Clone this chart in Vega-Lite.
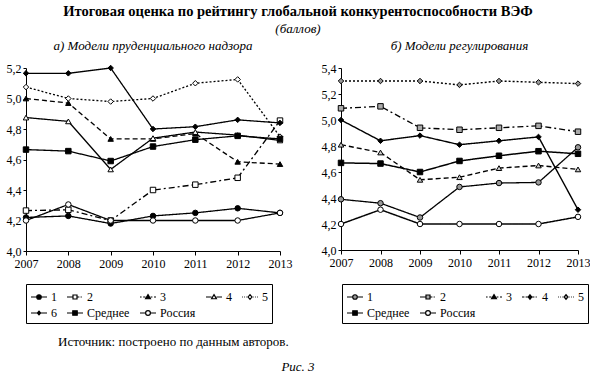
{
  "$schema": "https://vega.github.io/schema/vega-lite/v6.json",
  "padding": {"left": 6, "top": 3, "right": 0, "bottom": 0},
  "background": "white",
  "config": {
    "font": "Liberation Serif",
    "view": {"stroke": null},
    "axis": {"labelFont": "Liberation Serif", "labelFontSize": 12, "labelColor": "black", "domainColor": "black", "tickColor": "black", "grid": false, "title": null, "domainWidth": 1, "tickWidth": 1},
    "legend": {"labelFont": "Liberation Serif", "labelFontSize": 12, "labelColor": "black", "strokeColor": "black", "padding": 4, "rowPadding": 1, "columnPadding": 7, "symbolSize": 256, "labelOffset": 3, "title": null, "fillColor": "white"}
  },
  "title": {"text": "Итоговая оценка по рейтингу глобальной конкурентоспособности ВЭФ", "subtitle": "(баллов)", "font": "Liberation Serif", "fontSize": 14.5, "fontWeight": "bold", "color": "black", "subtitleFont": "Liberation Serif", "subtitleFontStyle": "italic", "subtitleFontSize": 13, "subtitleColor": "black", "subtitlePadding": 4, "anchor": "middle", "offset": 3},
  "datasets": {
    "a": [
      {"series": "1", "year": 2007, "value": 4.22}, {"series": "1", "year": 2008, "value": 4.23}, {"series": "1", "year": 2009, "value": 4.18}, {"series": "1", "year": 2010, "value": 4.23}, {"series": "1", "year": 2011, "value": 4.25}, {"series": "1", "year": 2012, "value": 4.28}, {"series": "1", "year": 2013, "value": 4.25},
      {"series": "2", "year": 2007, "value": 4.265}, {"series": "2", "year": 2008, "value": 4.27}, {"series": "2", "year": 2009, "value": 4.2}, {"series": "2", "year": 2010, "value": 4.4}, {"series": "2", "year": 2011, "value": 4.435}, {"series": "2", "year": 2012, "value": 4.48}, {"series": "2", "year": 2013, "value": 4.855},
      {"series": "3", "year": 2007, "value": 5.0}, {"series": "3", "year": 2008, "value": 4.97}, {"series": "3", "year": 2009, "value": 4.735}, {"series": "3", "year": 2010, "value": 4.735}, {"series": "3", "year": 2011, "value": 4.77}, {"series": "3", "year": 2012, "value": 4.585}, {"series": "3", "year": 2013, "value": 4.57},
      {"series": "4", "year": 2007, "value": 4.875}, {"series": "4", "year": 2008, "value": 4.85}, {"series": "4", "year": 2009, "value": 4.535}, {"series": "4", "year": 2010, "value": 4.74}, {"series": "4", "year": 2011, "value": 4.78}, {"series": "4", "year": 2012, "value": 4.76}, {"series": "4", "year": 2013, "value": 4.725},
      {"series": "5", "year": 2007, "value": 5.075}, {"series": "5", "year": 2008, "value": 5.0}, {"series": "5", "year": 2009, "value": 4.98}, {"series": "5", "year": 2010, "value": 5.0}, {"series": "5", "year": 2011, "value": 5.1}, {"series": "5", "year": 2012, "value": 5.125}, {"series": "5", "year": 2013, "value": 4.75},
      {"series": "6", "year": 2007, "value": 5.165}, {"series": "6", "year": 2008, "value": 5.165}, {"series": "6", "year": 2009, "value": 5.2}, {"series": "6", "year": 2010, "value": 4.8}, {"series": "6", "year": 2011, "value": 4.815}, {"series": "6", "year": 2012, "value": 4.86}, {"series": "6", "year": 2013, "value": 4.84},
      {"series": "Среднее", "year": 2007, "value": 4.665}, {"series": "Среднее", "year": 2008, "value": 4.655}, {"series": "Среднее", "year": 2009, "value": 4.59}, {"series": "Среднее", "year": 2010, "value": 4.685}, {"series": "Среднее", "year": 2011, "value": 4.73}, {"series": "Среднее", "year": 2012, "value": 4.755}, {"series": "Среднее", "year": 2013, "value": 4.735},
      {"series": "Россия", "year": 2007, "value": 4.2}, {"series": "Россия", "year": 2008, "value": 4.305}, {"series": "Россия", "year": 2009, "value": 4.2}, {"series": "Россия", "year": 2010, "value": 4.2}, {"series": "Россия", "year": 2011, "value": 4.2}, {"series": "Россия", "year": 2012, "value": 4.2}, {"series": "Россия", "year": 2013, "value": 4.25}
    ],
    "b": [
      {"series": "1", "year": 2007, "value": 4.39}, {"series": "1", "year": 2008, "value": 4.36}, {"series": "1", "year": 2009, "value": 4.25}, {"series": "1", "year": 2010, "value": 4.485}, {"series": "1", "year": 2011, "value": 4.515}, {"series": "1", "year": 2012, "value": 4.52}, {"series": "1", "year": 2013, "value": 4.79},
      {"series": "2", "year": 2007, "value": 5.09}, {"series": "2", "year": 2008, "value": 5.105}, {"series": "2", "year": 2009, "value": 4.94}, {"series": "2", "year": 2010, "value": 4.925}, {"series": "2", "year": 2011, "value": 4.94}, {"series": "2", "year": 2012, "value": 4.955}, {"series": "2", "year": 2013, "value": 4.91},
      {"series": "3", "year": 2007, "value": 4.81}, {"series": "3", "year": 2008, "value": 4.75}, {"series": "3", "year": 2009, "value": 4.54}, {"series": "3", "year": 2010, "value": 4.56}, {"series": "3", "year": 2011, "value": 4.63}, {"series": "3", "year": 2012, "value": 4.65}, {"series": "3", "year": 2013, "value": 4.62},
      {"series": "4", "year": 2007, "value": 5.0}, {"series": "4", "year": 2008, "value": 4.84}, {"series": "4", "year": 2009, "value": 4.88}, {"series": "4", "year": 2010, "value": 4.81}, {"series": "4", "year": 2011, "value": 4.84}, {"series": "4", "year": 2012, "value": 4.87}, {"series": "4", "year": 2013, "value": 4.31},
      {"series": "5", "year": 2007, "value": 5.3}, {"series": "5", "year": 2008, "value": 5.3}, {"series": "5", "year": 2009, "value": 5.3}, {"series": "5", "year": 2010, "value": 5.27}, {"series": "5", "year": 2011, "value": 5.3}, {"series": "5", "year": 2012, "value": 5.29}, {"series": "5", "year": 2013, "value": 5.28},
      {"series": "Среднее", "year": 2007, "value": 4.67}, {"series": "Среднее", "year": 2008, "value": 4.665}, {"series": "Среднее", "year": 2009, "value": 4.6}, {"series": "Среднее", "year": 2010, "value": 4.685}, {"series": "Среднее", "year": 2011, "value": 4.725}, {"series": "Среднее", "year": 2012, "value": 4.76}, {"series": "Среднее", "year": 2013, "value": 4.74},
      {"series": "Россия", "year": 2007, "value": 4.2}, {"series": "Россия", "year": 2008, "value": 4.31}, {"series": "Россия", "year": 2009, "value": 4.2}, {"series": "Россия", "year": 2010, "value": 4.2}, {"series": "Россия", "year": 2011, "value": 4.2}, {"series": "Россия", "year": 2012, "value": 4.2}, {"series": "Россия", "year": 2013, "value": 4.255}
    ]
  },
  "vconcat": [
    {
      "title": {"text": "Рис. 3", "orient": "bottom", "anchor": "middle", "font": "Liberation Serif", "fontSize": 13, "fontStyle": "italic", "fontWeight": "normal", "color": "black", "offset": 12},
      "vconcat": [
        {
          "title": {"text": "Источник: построено по данным авторов.", "orient": "bottom", "anchor": "start", "font": "Liberation Serif", "fontSize": 13, "fontWeight": "normal", "color": "black", "offset": 12, "dx": 52},
          "hconcat": [
            {
              "width": 254, "height": 183,
              "title": {"text": "а) Модели пруденциального надзора", "font": "Liberation Serif", "fontStyle": "italic", "fontWeight": "normal", "fontSize": 13, "color": "black", "anchor": "middle", "offset": 9},
              "data": {"name": "a"},
              "encoding": {
                "x": {"field": "year", "type": "quantitative", "scale": {"domain": [2007, 2013], "nice": false, "zero": false}, "axis": {"values": [2007, 2008, 2009, 2010, 2011, 2012, 2013], "format": "d", "tickSize": 4, "labelPadding": 3, "labelFlush": false}},
                "y": {"field": "value", "type": "quantitative", "scale": {"domain": [4.0, 5.2], "nice": false, "zero": false}, "axis": {"values": [4.0, 4.2, 4.4, 4.6, 4.8, 5.0, 5.2], "labelExpr": "replace(format(datum.value, '.1f'), '.', ',')", "tickSize": 3, "labelPadding": 2}}
              },
              "resolve": {"scale": {"shape": "independent", "fill": "independent", "strokeWidth": "independent", "stroke": "independent"}},
              "layer": [
                {
                  "mark": {"type": "line", "color": "black"},
                  "encoding": {
                    "strokeDash": {"field": "series", "type": "nominal", "legend": null,
                      "scale": {"range": [[1, 0], [6, 3, 2, 3], [5, 3], [1, 0], [2, 2], [1, 0], [1, 0], [1, 0]]}},
                    "strokeWidth": {"field": "series", "type": "nominal", "legend": null,
                      "scale": {"range": [1.3, 1.3, 1.5, 1.2, 1.5, 2, 2.5, 2.5]}}
                  }
                },
                {
                  "mark": {"type": "point", "filled": true, "opacity": 1, "stroke": "black", "strokeWidth": 1},
                  "encoding": {
                    "shape": {"field": "series", "type": "nominal", "legend": null,
                      "scale": {"range": ["circle", "square", "triangle-up", "triangle-up", "diamond", "diamond", "circle", "square"]}},
                    "fill": {"field": "series", "type": "nominal", "legend": null,
                      "scale": {"range": ["black", "white", "black", "white", "white", "black", "white", "black"]}},
                    "size": {"field": "series", "type": "nominal", "legend": null,
                      "scale": {"range": [30, 30, 35, 35, 30, 20, 40, 35]}}
                  }
                },
                {
                  "mark": {"type": "point", "filled": false, "color": "black", "opacity": 0},
                  "encoding": {
                    "shape": {"field": "series", "type": "nominal",
                      "scale": {"domain": ["1", "2", "3", "4", "5", "6", "Среднее", "Россия"], "range": ["M-1,0H-0.28M0.28,0H1M-0.28,0A0.28,0.28 0 1 1 0.28,0A0.28,0.28 0 1 1 -0.28,0Z", "M-1,0H-0.25M0.25,0H0.55M0.7,0H0.85M-0.25,-0.25H0.25V0.25H-0.25Z", "M-1,0H-0.8M-0.6,0H-0.32M0.32,0H0.55M0.75,0H1M0,-0.3L0.3,0.22H-0.3Z", "M-1,0H-0.3M0.3,0H1M0,-0.3L0.3,0.22H-0.3Z", "M-1,0H-0.9M-0.72,0H-0.62M-0.45,0H-0.35M0.35,0H0.45M0.62,0H0.72M0.9,0H1M0,-0.3L0.24,0L0,0.3L-0.24,0Z", "M-1,0H-0.22M0.22,0H1M0,-0.24L0.2,0L0,0.24L-0.2,0Z", "M-1,0H-0.28M0.28,0H1M-0.28,-0.28H0.28V0.28H-0.28Z", "M-1,0H-0.3M0.3,0H1M-0.3,0A0.3,0.3 0 1 1 0.3,0A0.3,0.3 0 1 1 -0.3,0Z"]},
                      "legend": {"orient": "none", "legendX": 0, "legendY": 216, "symbolOpacity": 1, "symbolStrokeColor": "black", "columns": 5, "direction": "horizontal"}},
                    "fill": {"field": "series", "type": "nominal",
                      "scale": {"domain": ["1", "2", "3", "4", "5", "6", "Среднее", "Россия"], "range": ["black", "white", "black", "white", "white", "black", "black", "white"]},
                      "legend": {"orient": "none", "legendX": 0, "legendY": 216, "symbolOpacity": 1, "symbolStrokeColor": "black", "columns": 5, "direction": "horizontal"}},
                    "stroke": {"field": "series", "type": "nominal",
                      "scale": {"domain": ["1", "2", "3", "4", "5", "6", "Среднее", "Россия"], "range": ["black", "black", "black", "black", "black", "black", "black", "black"]},
                      "legend": {"orient": "none", "legendX": 0, "legendY": 216, "symbolOpacity": 1, "symbolStrokeColor": "black", "columns": 5, "direction": "horizontal"}},
                    "strokeWidth": {"field": "series", "type": "nominal",
                      "scale": {"domain": ["1", "2", "3", "4", "5", "6", "Среднее", "Россия"], "range": [1.2, 1.2, 1.2, 1.2, 1.2, 1.2, 2.3, 2.3]},
                      "legend": {"orient": "none", "legendX": 0, "legendY": 216, "symbolOpacity": 1, "symbolStrokeColor": "black", "columns": 5, "direction": "horizontal"}}
                  }
                }
              ]
            },
            {
              "width": 237, "height": 182,
              "title": {"text": "б) Модели регулирования", "font": "Liberation Serif", "fontStyle": "italic", "fontWeight": "normal", "fontSize": 13, "color": "black", "anchor": "middle", "offset": 9},
              "data": {"name": "b"},
              "encoding": {
                "x": {"field": "year", "type": "quantitative", "scale": {"domain": [2007, 2013], "nice": false, "zero": false}, "axis": {"values": [2007, 2008, 2009, 2010, 2011, 2012, 2013], "format": "d", "tickSize": 4, "labelPadding": 3, "labelFlush": false}},
                "y": {"field": "value", "type": "quantitative", "scale": {"domain": [4.0, 5.4], "nice": false, "zero": false}, "axis": {"values": [4.0, 4.2, 4.4, 4.6, 4.8, 5.0, 5.2, 5.4], "labelExpr": "replace(format(datum.value, '.1f'), '.', ',')", "tickSize": 3, "labelPadding": 2}}
              },
              "resolve": {"scale": {"shape": "independent", "fill": "independent", "strokeWidth": "independent", "stroke": "independent"}},
              "layer": [
                {
                  "mark": {"type": "line", "color": "black"},
                  "encoding": {
                    "strokeDash": {"field": "series", "type": "nominal", "legend": null,
                      "scale": {"range": [[1, 0], [7, 3, 2, 3], [4, 3], [6, 3], [2, 2], [1, 0], [1, 0]]}},
                    "strokeWidth": {"field": "series", "type": "nominal", "legend": null,
                      "scale": {"range": [1.3, 1.5, 1.5, 1.3, 1.5, 2.5, 2.5]}}
                  }
                },
                {
                  "mark": {"type": "point", "filled": true, "opacity": 1, "stroke": "black", "strokeWidth": 1},
                  "encoding": {
                    "shape": {"field": "series", "type": "nominal", "legend": null,
                      "scale": {"range": ["circle", "square", "triangle-up", "diamond", "diamond", "circle", "square"]}},
                    "fill": {"field": "series", "type": "nominal", "legend": null,
                      "scale": {"range": ["#999999", "#aaaaaa", "#cccccc", "black", "#999999", "white", "black"]}},
                    "size": {"field": "series", "type": "nominal", "legend": null,
                      "scale": {"range": [30, 30, 30, 25, 30, 40, 35]}}
                  }
                },
                {
                  "mark": {"type": "point", "filled": false, "color": "black", "opacity": 0},
                  "encoding": {
                    "shape": {"field": "series", "type": "nominal",
                      "scale": {"domain": ["1", "2", "3", "4", "5", "Среднее", "Россия"], "range": ["M-1,0H-0.28M0.28,0H1M-0.28,0A0.28,0.28 0 1 1 0.28,0A0.28,0.28 0 1 1 -0.28,0Z", "M-1,0H-0.25M0.25,0H0.55M0.7,0H0.85M-0.25,-0.25H0.25V0.25H-0.25Z", "M-1,0H-0.8M-0.6,0H-0.32M0.32,0H0.55M0.75,0H1M0,-0.3L0.3,0.22H-0.3Z", "M-1,0H-0.7M-0.55,0H-0.24M0.24,0H0.55M0.7,0H0.85M0,-0.28L0.22,0L0,0.28L-0.22,0Z", "M-1,0H-0.9M-0.72,0H-0.62M-0.45,0H-0.35M0.35,0H0.45M0.62,0H0.72M0.9,0H1M0,-0.3L0.24,0L0,0.3L-0.24,0Z", "M-1,0H-0.28M0.28,0H1M-0.28,-0.28H0.28V0.28H-0.28Z", "M-1,0H-0.3M0.3,0H1M-0.3,0A0.3,0.3 0 1 1 0.3,0A0.3,0.3 0 1 1 -0.3,0Z"]},
                      "legend": {"orient": "none", "legendX": 1, "legendY": 216, "symbolOpacity": 1, "symbolStrokeColor": "black", "columns": 5, "direction": "horizontal"}},
                    "fill": {"field": "series", "type": "nominal",
                      "scale": {"domain": ["1", "2", "3", "4", "5", "Среднее", "Россия"], "range": ["#999999", "#aaaaaa", "black", "black", "#999999", "black", "white"]},
                      "legend": {"orient": "none", "legendX": 1, "legendY": 216, "symbolOpacity": 1, "symbolStrokeColor": "black", "columns": 5, "direction": "horizontal"}},
                    "stroke": {"field": "series", "type": "nominal",
                      "scale": {"domain": ["1", "2", "3", "4", "5", "Среднее", "Россия"], "range": ["black", "black", "black", "black", "black", "black", "black"]},
                      "legend": {"orient": "none", "legendX": 1, "legendY": 216, "symbolOpacity": 1, "symbolStrokeColor": "black", "columns": 5, "direction": "horizontal"}},
                    "strokeWidth": {"field": "series", "type": "nominal",
                      "scale": {"domain": ["1", "2", "3", "4", "5", "Среднее", "Россия"], "range": [1.2, 1.2, 1.2, 1.2, 1.2, 2.3, 2.3]},
                      "legend": {"orient": "none", "legendX": 1, "legendY": 216, "symbolOpacity": 1, "symbolStrokeColor": "black", "columns": 5, "direction": "horizontal"}}
                  }
                }
              ]
            }
          ],
          "spacing": 29,
          "align": "none"
        }
      ]
    }
  ]
}
